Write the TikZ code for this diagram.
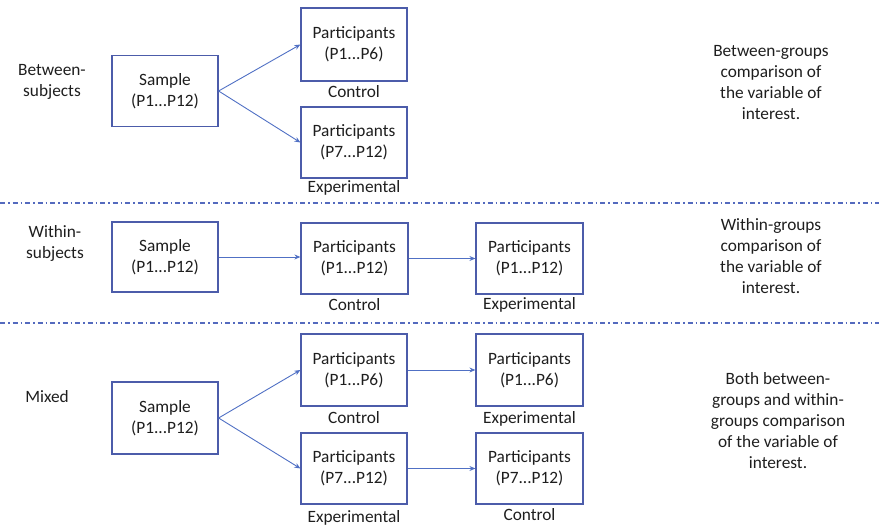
\documentclass[tikz,border=0pt]{standalone}
\usepackage{fontspec}
\setmainfont{Carlito}
\usetikzlibrary{arrows.meta}
\definecolor{boxline}{RGB}{76,92,170}
\definecolor{arrowline}{RGB}{80,112,196}
\definecolor{sepline}{RGB}{84,106,190}
\definecolor{txt}{RGB}{30,30,30}
\tikzset{
  grp/.style={draw=boxline, line width=1.2pt, fill=white, minimum width=106pt,
    minimum height=71pt, inner sep=0pt, align=center, text=txt},
  lbl/.style={text=txt, inner sep=0pt, align=center},
  flow/.style={draw=arrowline, line width=0.9pt, -{Stealth[length=6pt,width=5pt]}},
  sep/.style={draw=sepline, line width=1.2pt, dash pattern=on 5pt off 3pt on 1.5pt off 3pt}
}
\begin{document}
\begin{tikzpicture}[x=1pt, y=-1pt, font=\fontsize{17.3}{21}\selectfont]
\useasboundingbox (0,0) rectangle (879,525);

% separators between the three designs
\draw[sep] (0,203) -- (879,203);
\draw[sep] (0,323) -- (879,323);

% ---- between-subjects design ----
\node[lbl] (t1) at (52,82) {Between-\\subjects};
\node[grp] (s1) at (165,91) {Sample\\(P1...P12)};
\node[grp, minimum height=73pt] (a1) at (354,44.5) {Participants\\(P1...P6)};
\node[grp] (b1) at (354,142.5) {Participants\\(P7...P12)};
\node[lbl] (a1l) at ([yshift=-10]a1.south) {Control};
\node[lbl] (b1l) at ([yshift=-9]b1.south) {Experimental};
\draw[flow] (s1.east) -- (a1.west);
\draw[flow] (s1.east) -- (b1.west);
\node[lbl] (r1) at (771,83) {Between-groups\\comparison of\\the variable of\\interest.};

% ---- within-subjects design ----
\node[lbl] (t2) at (55,243) {Within-\\subjects};
\node[grp, minimum height=70pt] (s2) at (165,257) {Sample\\(P1...P12)};
\node[grp, minimum width=107pt] (a2) at (354.5,258.5) {Participants\\(P1...P12)};
\node[grp, minimum width=107pt] (b2) at (529.5,258.5) {Participants\\(P1...P12)};
\node[lbl] (a2l) at ([yshift=-10]a2.south) {Control};
\node[lbl] (b2l) at ([yshift=-10]b2.south) {Experimental};
\draw[flow] (s2.east) -- (s2.east -| a2.west);
\draw[flow] (a2.east) -- (b2.west);
\node[lbl] (r2) at (771,256) {Within-groups\\comparison of\\the variable of\\interest.};

% ---- mixed design ----
\node[lbl] (t3) at (47,397) {Mixed};
\node[grp, minimum height=72pt] (s3) at (165,418) {Sample\\(P1...P12)};
\node[grp, minimum height=72pt] (a3) at (354,370) {Participants\\(P1...P6)};
\node[grp] (b3) at (354,468.5) {Participants\\(P7...P12)};
\node[grp, minimum width=107pt, minimum height=72pt] (c3) at (529.5,370) {Participants\\(P1...P6)};
\node[grp, minimum width=107pt] (d3) at (529.5,468.5) {Participants\\(P7...P12)};
\node[lbl] (a3l) at ([yshift=-11]a3.south) {Control};
\node[lbl] (b3l) at ([yshift=-13]b3.south) {Experimental};
\node[lbl] (c3l) at ([yshift=-12]c3.south) {Experimental};
\node[lbl] (d3l) at ([yshift=-10]d3.south) {Control};
\draw[flow] (s3.east) -- (a3.west);
\draw[flow] (s3.east) -- (b3.west);
\draw[flow] (a3.east) -- (c3.west);
\draw[flow] (b3.east) -- (d3.west);
\node[lbl] (r3) at (778,421) {Both between-\\groups and within-\\groups comparison\\of the variable of\\interest.};
\end{tikzpicture}
\end{document}
